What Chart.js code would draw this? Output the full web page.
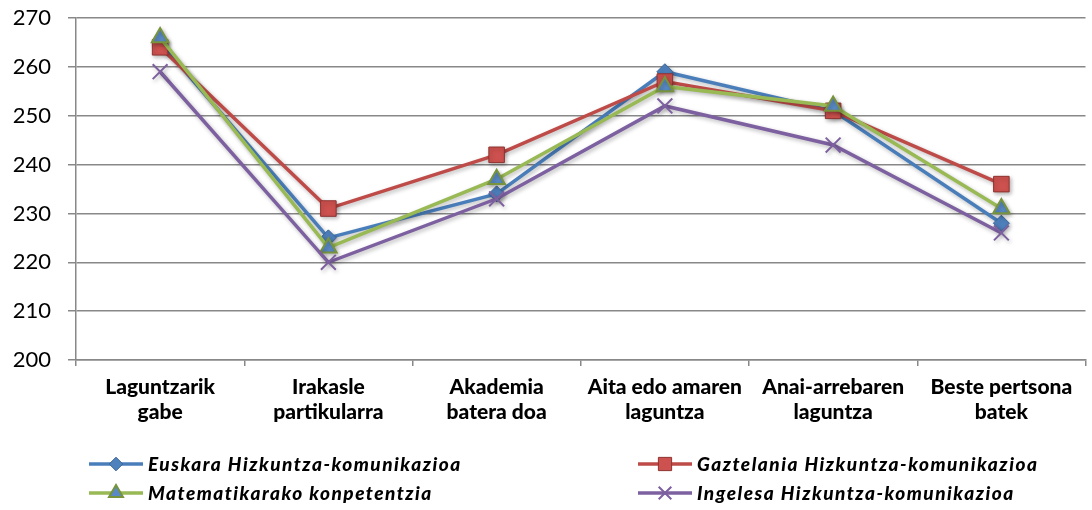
<!DOCTYPE html>
<html>
<head>
<meta charset="utf-8">
<script src="https://cdn.jsdelivr.net/npm/chart.js@4/dist/chart.umd.min.js"></script>
<style>
  html, body { margin: 0; padding: 0; background: #fff; overflow: hidden; }
  #wrap { width: 1098px; height: 510px; }
</style>
</head>
<body>
<div id="wrap"><canvas id="c" width="1098" height="510"></canvas></div>
<script>
const categories = [
  ["Laguntzarik", "gabe"],
  ["Irakasle", "partikularra"],
  ["Akademia", "batera doa"],
  ["Aita edo amaren", "laguntza"],
  ["Anai-arrebaren", "laguntza"],
  ["Beste pertsona", "batek"]
];
const seriesNames = [
  "Euskara Hizkuntza-komunikazioa",
  "Gaztelania Hizkuntza-komunikazioa",
  "Matematikarako konpetentzia",
  "Ingelesa Hizkuntza-komunikazioa"
];
const euskara    = [265, 225, 234, 259, 251, 228];
const gaztelania = [264, 231, 242, 257, 251, 236];
const matematika = [266, 223, 237, 256, 252, 231];
const ingelesa   = [259, 220, 233, 252, 244, 226];
const yMin = 200, yMax = 270, yStep = 10;

const styles = [
  { line: '#4A7EBB', point: 'rectRot', fill: '#4F81BD', border: '#3A6597', radius: 8, bw: 1 },
  { line: '#BE4B48', point: 'rect', fill: '#CD514E', border: '#8E3330', radius: 11, bw: 1 },
  { line: '#98B954', point: 'triangle', fill: '#5A8AC6', border: '#77933C', radius: 9.5, bw: 2 },
  { line: '#7D60A0', point: 'crossRot', fill: '#7D60A0', border: '#7D60A0', radius: 10.5, bw: 2 }
];
const allData = [euskara, gaztelania, matematika, ingelesa];

const datasets = allData.map((d, i) => ({
  label: seriesNames[i],
  data: d,
  borderColor: styles[i].line,
  borderWidth: 3.5,
  pointStyle: styles[i].point,
  pointRadius: styles[i].radius,
  pointHoverRadius: styles[i].radius,
  pointBackgroundColor: styles[i].fill,
  pointBorderColor: styles[i].border,
  pointBorderWidth: styles[i].bw,
  tension: 0,
  fill: false,
  order: 4 - i
}));

const shadowPlugin = {
  id: 'shadow',
  beforeDatasetsDraw(chart) {
    const ctx = chart.ctx;
    ctx.save();
    ctx.shadowColor = 'rgba(0,0,0,0.28)';
    ctx.shadowBlur = 4;
    ctx.shadowOffsetX = 1.5;
    ctx.shadowOffsetY = 2;
  },
  afterDatasetsDraw(chart) {
    chart.ctx.restore();
  }
};

function drawMarker(ctx, st, x, y, scale) {
  const r = st.radius * scale;
  ctx.save();
  ctx.fillStyle = st.fill;
  ctx.strokeStyle = st.border;
  ctx.lineWidth = st.bw;
  if (Chart.helpers && Chart.helpers.drawPoint) {
    Chart.helpers.drawPoint(ctx, { pointStyle: st.point, radius: r, rotation: 0, borderWidth: st.bw }, x, y);
  } else {
    ctx.beginPath();
    ctx.arc(x, y, r / 2, 0, Math.PI * 2);
    ctx.fill(); ctx.stroke();
  }
  ctx.restore();
}

const legendPlugin = {
  id: 'customLegend',
  afterDraw(chart) {
    const ctx = chart.ctx;
    const cols = [89, 638];
    const rows = [464, 493];
    const lineLen = 54;
    ctx.save();
    seriesNames.forEach((name, i) => {
      const x = cols[i % 2];
      const y = rows[Math.floor(i / 2)];
      const st = styles[i];
      ctx.strokeStyle = st.line;
      ctx.lineWidth = 3.5;
      ctx.beginPath();
      ctx.moveTo(x, y);
      ctx.lineTo(x + lineLen, y);
      ctx.stroke();
      drawMarker(ctx, st, x + lineLen / 2, y, 0.85);
      ctx.fillStyle = '#000';
      ctx.font = 'italic 900 19px Lato';
      try { ctx.letterSpacing = '1.5px'; } catch (e) {}
      ctx.textBaseline = 'middle';
      ctx.textAlign = 'left';
      ctx.fillText(name, x + lineLen + 5, y + 1);
      try { ctx.letterSpacing = '0px'; } catch (e) {}
    });
    ctx.restore();
  }
};

new Chart(document.getElementById('c'), {
  type: 'line',
  data: { labels: categories, datasets },
  plugins: [shadowPlugin, legendPlugin],
  options: {
    responsive: false,
    animation: false,
    events: [],
    layout: { padding: { top: 18, right: 0, bottom: 0, left: 0 } },
    plugins: { legend: { display: false }, tooltip: { enabled: false } },
    scales: {
      x: {
        offset: true,
        grid: {
          offset: true,
          drawOnChartArea: false,
          drawTicks: true,
          tickLength: 6,
          color: '#888',
          lineWidth: 1.5
        },
        border: { color: '#888', width: 1.5 },
        ticks: {
          color: '#000',
          padding: 8,
          maxRotation: 0,
          autoSkip: false,
          font: { family: 'Lato', size: 21, weight: '900', lineHeight: 1.22 }
        },
        afterFit(scale) { scale.height = 150; scale.paddingLeft = 0; scale.paddingRight = 0; }
      },
      y: {
        min: yMin,
        max: yMax,
        ticks: {
          stepSize: yStep,
          color: '#000',
          padding: 17,
          font: { family: 'Lato', size: 22 }
        },
        grid: {
          color: '#888',
          lineWidth: 1.5,
          tickLength: 8,
          drawTicks: true
        },
        border: { color: '#888', width: 1.5 },
        afterFit(scale) { scale.width = 76; scale.paddingTop = 0; scale.paddingBottom = 0; }
      }
    }
  }
});
</script>
</body>
</html>
